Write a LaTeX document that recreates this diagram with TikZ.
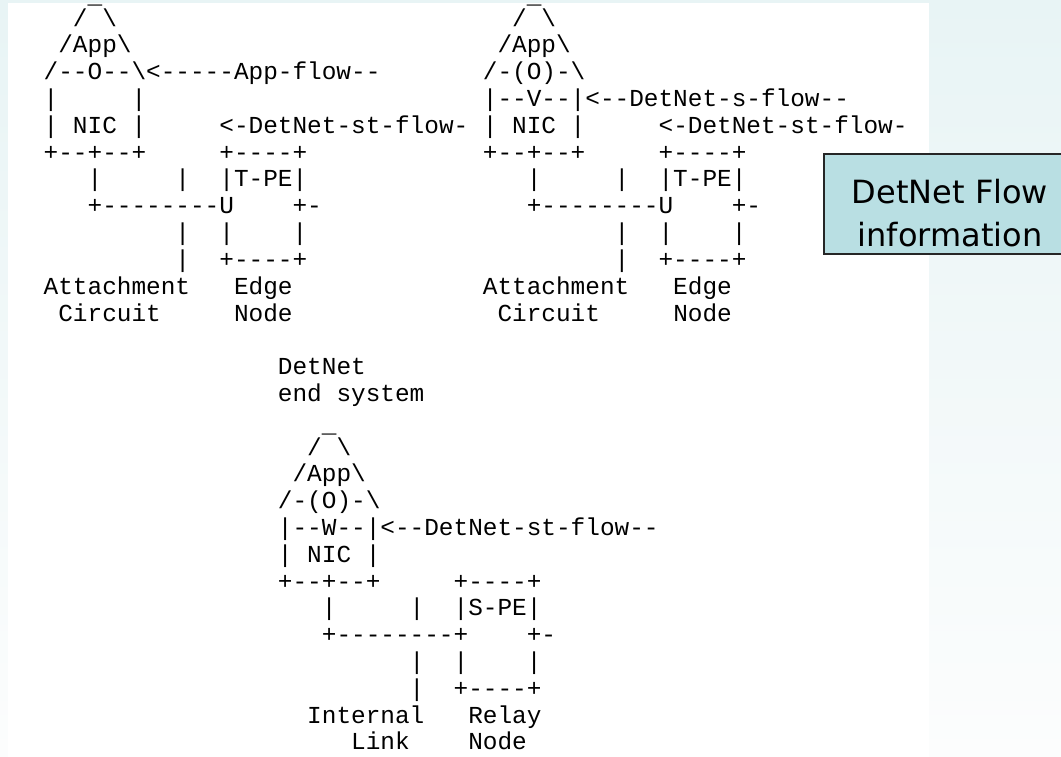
\documentclass[tikz,border=0pt]{standalone}
\usepackage{fontspec}
\setmonofont{Liberation Mono}
\newfontfamily\boxfont{DejaVu Sans}
\definecolor{slidetop}{HTML}{E8F4F5}
\definecolor{slidebot}{HTML}{FCFDFD}
\definecolor{flowfill}{HTML}{B9DFE3}

\begin{document}
\begin{tikzpicture}[x=1pt, y=-1pt,
    ascii/.style={anchor=base west, inner sep=0pt, font=\ttfamily\fontsize{24.4}{26.8}\selectfont},
    asciibar/.style={ascii, yshift=-4.5pt},
    infobox/.style={rectangle, draw=black!85, line width=2pt, fill=flowfill,
                    minimum width=252.6pt, minimum height=100pt, inner sep=0pt},
    infotext/.style={anchor=base, inner sep=0pt, font=\boxfont\fontsize{32}{40}\selectfont}]
  \useasboundingbox (0,0) rectangle (1061,757);
  \shade[top color=slidetop, bottom color=slidebot] (0,0) rectangle (1061,757);
  \fill[white] (8,3) rectangle (929,757);

  \begin{scope}[shift={(43.5,-0.6)}, x=14.64pt, y=-26.8pt]
    % first end system
    \path node (aBar)  at(3,0)  [asciibar] {\_}
          node (aRoof) at(2,1)  [ascii] {/~\textbackslash}
          node (aApp)  at(1,2)  [ascii] {/App\textbackslash}
          node (aFlow) at(0,3)  [ascii] {/--O--\textbackslash<-----App-flow--}
          node (aSide) at(0,4)  [ascii] {|~~~~~|}
          node (aNic)  at(0,5)  [ascii] {|~NIC~|~~~~~<-DetNet-st-flow-}
          node (aBase) at(0,6)  [ascii] {+--+--+~~~~~+----+}
          node (aPe)   at(3,7)  [ascii] {|~~~~~|~~|T-PE|}
          node (aWire) at(3,8)  [ascii] {+--------U~~~~+-}
          node (aLegs) at(9,9)  [ascii] {|~~|~~~~|}
          node (aFoot) at(9,10) [ascii] {|~~+----+}
          node (aCapA) at(0,11) [ascii] {Attachment~~~Edge}
          node (aCapB) at(1,12) [ascii] {Circuit~~~~~Node};
    % second end system
    \path node (bBar)  at(33,0)  [asciibar] {\_}
          node (bRoof) at(32,1)  [ascii] {/~\textbackslash}
          node (bApp)  at(31,2)  [ascii] {/App\textbackslash}
          node (bTop)  at(30,3)  [ascii] {/-(O)-\textbackslash}
          node (bFlow) at(30,4)  [ascii] {|--V--|<--DetNet-s-flow--}
          node (bNic)  at(30,5)  [ascii] {|~NIC~|~~~~~<-DetNet-st-flow-}
          node (bBase) at(30,6)  [ascii] {+--+--+~~~~~+----+}
          node (bPe)   at(33,7)  [ascii] {|~~~~~|~~|T-PE|}
          node (bWire) at(33,8)  [ascii] {+--------U~~~~+-}
          node (bLegs) at(39,9)  [ascii] {|~~|~~~~|}
          node (bFoot) at(39,10) [ascii] {|~~+----+}
          node (bCapA) at(30,11) [ascii] {Attachment~~~Edge}
          node (bCapB) at(31,12) [ascii] {Circuit~~~~~Node};
    % end system with relay
    \path node (cHead) at(16,14) [ascii] {DetNet}
          node (cSub)  at(16,15) [ascii] {end~system}
          node (cBar)  at(19,16) [asciibar] {\_}
          node (cRoof) at(18,17) [ascii] {/~\textbackslash}
          node (cApp)  at(17,18) [ascii] {/App\textbackslash}
          node (cTop)  at(16,19) [ascii] {/-(O)-\textbackslash}
          node (cFlow) at(16,20) [ascii] {|--W--|<--DetNet-st-flow--}
          node (cNic)  at(16,21) [ascii] {|~NIC~|}
          node (cBase) at(16,22) [ascii] {+--+--+~~~~~+----+}
          node (cPe)   at(19,23) [ascii] {|~~~~~|~~|S-PE|}
          node (cWire) at(19,24) [ascii] {+--------+~~~~+-}
          node (cLegs) at(25,25) [ascii] {|~~|~~~~|}
          node (cFoot) at(25,26) [ascii] {|~~+----+}
          node (cCapA) at(18,27) [ascii] {Internal~~~Relay}
          node (cCapB) at(21,28) [ascii] {Link~~~~Node};
  \end{scope}

  \node (flowbox) at(950,204.3) [infobox] {};
  \node (flowtop) at(950,203.3) [infotext] {DetNet Flow};
  \node (flowbot) at(950,246.7) [infotext] {information};
\end{tikzpicture}
\end{document}
